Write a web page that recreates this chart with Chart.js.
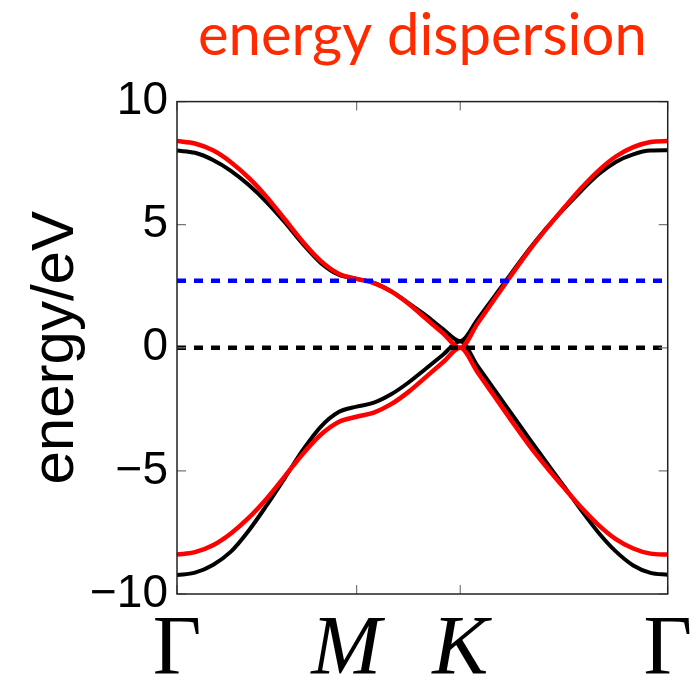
<!DOCTYPE html>
<html>
<head>
<meta charset="utf-8">
<script src="https://cdn.jsdelivr.net/npm/chart.js@4.4.0/dist/chart.umd.min.js"></script>
<style>
  html, body { margin: 0; padding: 0; background: #fff; }
  #wrap { width: 700px; height: 680px; }
</style>
</head>
<body>
<div id="wrap"><canvas id="chartCanvas"></canvas></div>
<script>
// position along the path Γ - M - K - Γ
const kPath = [0, 0.1, 0.2, 0.3, 0.4, 0.5, 0.6, 0.7, 0.8, 0.9, 1.0,
  1.096, 1.192, 1.289, 1.385, 1.481, 1.577,
  1.673, 1.770, 1.866, 1.962, 2.058, 2.155, 2.251, 2.347, 2.443, 2.540, 2.636, 2.732];

const redUpper = [8.4, 8.3, 8.02, 7.54, 6.90, 6.12, 5.22, 4.31, 3.53, 3.01, 2.8,
  2.63, 2.29, 1.79, 1.19, 0.59, 0,
  0.99, 2.00, 3.00, 3.97, 4.85, 5.69, 6.49, 7.20, 7.77, 8.15, 8.36, 8.4];
const redLower = [-8.4, -8.3, -8.02, -7.54, -6.90, -6.12, -5.22, -4.31, -3.53, -3.01, -2.8,
  -2.63, -2.29, -1.79, -1.19, -0.59, 0,
  -0.99, -2.00, -3.00, -3.97, -4.85, -5.69, -6.49, -7.20, -7.77, -8.15, -8.36, -8.4];
const blackUpper = [8.01, 7.92, 7.63, 7.19, 6.61, 5.91, 5.10, 4.22, 3.45, 2.97, 2.8,
  2.64, 2.30, 1.81, 1.32, 0.76, 0.27,
  1.15, 2.12, 3.07, 4.01, 4.87, 5.65, 6.38, 7.05, 7.55, 7.86, 8.01, 8.02];
const blackLower = [-9.23, -9.13, -8.82, -8.28, -7.42, -6.39, -5.29, -4.16, -3.21, -2.61, -2.39,
  -2.23, -1.89, -1.41, -0.85, -0.28, 0.27,
  -0.74, -1.73, -2.72, -3.70, -4.67, -5.63, -6.60, -7.51, -8.27, -8.84, -9.14, -9.22];

const fermiLevel = 0;
const blueLevel = 2.72;

const xTicks = [0, 1, 1.577, 2.732];
const xTickLabels = ["\u0393", "M ", "K", "\u0393"];
const yTicks = [-10, -5, 0, 5, 10];

Chart.defaults.font.family = "'Liberation Sans', Arial, sans-serif";
Chart.defaults.color = "#000";

const toPoints = vals => kPath.map((k, i) => ({ x: k, y: vals[i] }));
const level = v => [{ x: kPath[0], y: v }, { x: kPath[kPath.length - 1], y: v }];

// box round the plot with inward ticks, like matlab
const boxPlugin = {
  id: "box",
  afterDatasetsDraw(chart) {
    const { ctx, chartArea: a, scales: { x, y } } = chart;
    ctx.save();
    ctx.strokeStyle = "#777";
    ctx.lineWidth = 1.2;
    ctx.beginPath();
    yTicks.forEach(v => {
      const py = y.getPixelForValue(v);
      ctx.moveTo(a.left, py); ctx.lineTo(a.left + 9, py);
      ctx.moveTo(a.right, py); ctx.lineTo(a.right - 9, py);
    });
    xTicks.forEach(v => {
      const px = x.getPixelForValue(v);
      ctx.moveTo(px, a.bottom); ctx.lineTo(px, a.bottom - 9);
      ctx.moveTo(px, a.top); ctx.lineTo(px, a.top + 9);
    });
    ctx.stroke();
    ctx.strokeStyle = "#222";
    ctx.lineWidth = 1.5;
    ctx.strokeRect(a.left, a.top, a.right - a.left, a.bottom - a.top);
    ctx.restore();
  }
};

const line = (vals, color, width, order) => ({
  data: toPoints(vals),
  borderColor: color,
  borderWidth: width,
  pointRadius: 0,
  cubicInterpolationMode: "monotone",
  order: order
});

const dashed = (v, color) => ({
  data: level(v),
  borderColor: color,
  borderWidth: 4.5,
  borderDash: [9, 8],
  pointRadius: 0,
  order: 0
});

new Chart(document.getElementById("chartCanvas"), {
  type: "line",
  data: {
    datasets: [
      dashed(blueLevel, "#0000ff"),
      dashed(fermiLevel, "#000000"),
      line(redUpper, "#ff0000", 4.5, 1),
      line(redLower, "#ff0000", 4.5, 1),
      line(blackUpper, "#000000", 4, 2),
      line(blackLower, "#000000", 4, 2)
    ]
  },
  options: {
    responsive: true,
    maintainAspectRatio: false,
    animation: false,
    layout: { padding: { left: 0, right: 32, top: 0, bottom: 0 } },
    plugins: {
      legend: { display: false },
      tooltip: { enabled: false },
      title: {
        display: true,
        fullSize: false,
        text: "energy dispersion",
        color: "#ff2a00",
        font: { family: "Lato, 'Open Sans', sans-serif", size: 58, weight: "normal", lineHeight: 1.2 },
        padding: { top: 1, bottom: 31 }
      }
    },
    scales: {
      x: {
        type: "linear",
        min: 0,
        max: 2.732,
        afterFit: s => { s.height = 86; },
        afterBuildTicks: s => { s.ticks = xTicks.map(v => ({ value: v })); },
        grid: { display: false, drawTicks: false },
        border: { display: false },
        ticks: {
          autoSkip: false,
          maxRotation: 0,
          padding: 8,
          callback: (v, i) => xTickLabels[i],
          font: ctx => ({
            family: "'Liberation Serif', 'Times New Roman', serif",
            size: 84,
            style: ctx.index === 1 || ctx.index === 2 ? "italic" : "normal"
          })
        }
      },
      y: {
        min: -10,
        max: 10,
        afterFit: s => { s.width = 177; },
        afterBuildTicks: s => { s.ticks = yTicks.map(v => ({ value: v })); },
        grid: { display: false, drawTicks: false },
        border: { display: false },
        ticks: {
          padding: 9,
          font: { size: 46 },
          callback: v => v < 0 ? "\u2212" + Math.abs(v) : String(v)
        },
        title: {
          display: true,
          text: "energy/eV",
          font: { size: 60 },
          padding: { top: 20, bottom: 0 }
        }
      }
    }
  },
  plugins: [boxPlugin]
});
</script>
</body>
</html>
